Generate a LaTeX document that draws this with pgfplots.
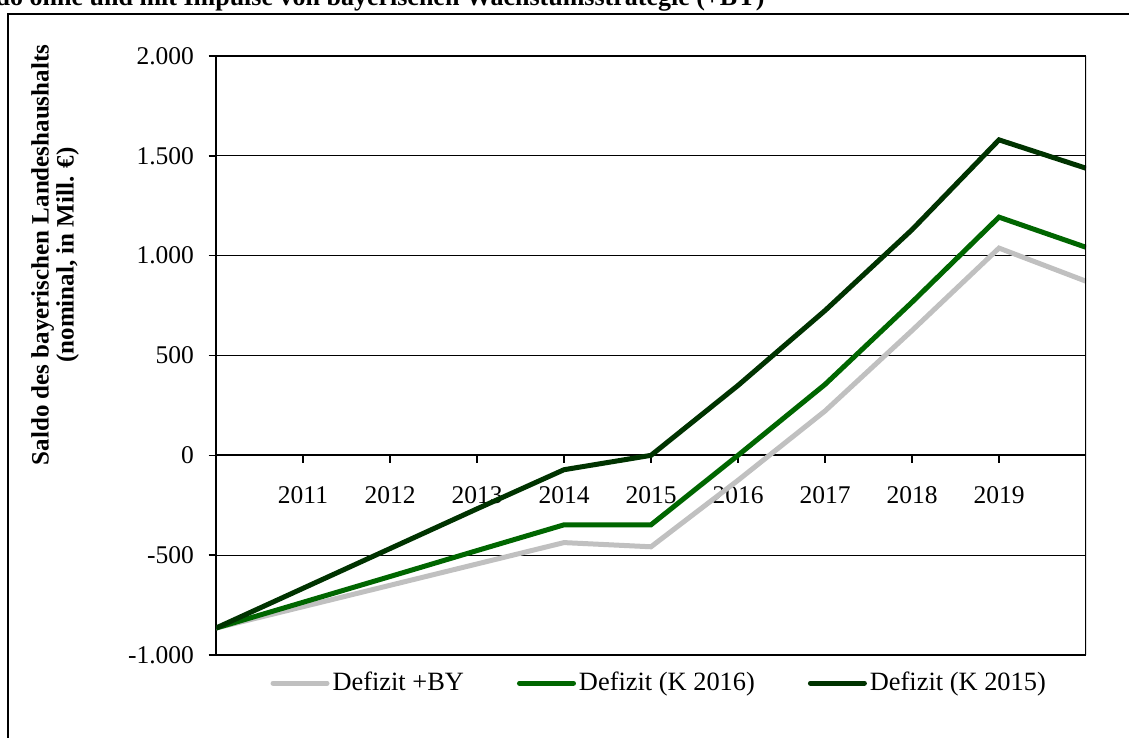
\documentclass[border=0pt]{standalone}
\usepackage{fontspec}
\setmainfont{Liberation Serif}
\usepackage{pgfplots}
\pgfplotsset{compat=1.18}
\definecolor{lineGray}{RGB}{192,192,192}
\definecolor{lineGreen}{RGB}{0,102,0}
\definecolor{lineDark}{RGB}{0,51,0}

\begin{document}
\begin{tikzpicture}
    \path[use as bounding box] (0,0) rectangle (564.5pt,-369pt);

    % outer frame, cut by the page edge
    \draw[line width=1pt] (3.75pt,-380pt) -- (3.75pt,-7pt) -- (580pt,-7pt);

    % title, mostly cut off at the top
    \node[anchor=base east, inner sep=0pt,
        font=\bfseries\fontsize{13}{15}\selectfont]
        at (382.5pt,-2.6pt)
        {Saldo ohne und mit Impulse von bayerischen Wachstumsstrategie (+BY)};

    \begin{axis}[
            at={(108pt,-327.5pt)},
            anchor=south west,
            width=435pt,
            height=299.5pt,
            scale only axis,
            xmin=0, xmax=10,
            ymin=-1000, ymax=2000,
            enlargelimits=false,
            axis y line=left,
            axis x line=middle,
            axis line style={-, black, line width=1pt},
            every inner x axis line/.append style={-},
            every outer y axis line/.append style={-},
            hide obscured x ticks=false,
            hide obscured y ticks=false,
            xtick={1,2,3,4,5,6,7,8,9},
            xticklabels={2011,2012,2013,2014,2015,2016,2017,2018,2019},
            ytick={-1000,-500,0,500,1000,1500,2000},
            yticklabels={-1.000,-500,0,500,1.000,1.500,2.000},
            tick align=outside,
            major tick length=3.75pt,
            tick style={black, line width=0.8pt},
            tick label style={font=\fontsize{12.75}{15}\selectfont},
            xticklabel style={yshift=-8.5pt},
            yticklabel style={xshift=-3.75pt},
            ymajorgrids,
            major grid style={black, line width=0.65pt},
            legend columns=3,
            legend style={
                    at={(0.510,-0.047)},
                    anchor=center,
                    draw=none,
                    fill=none,
                    font=\fontsize{13.2}{15}\selectfont,
                    nodes={inner xsep=1.5pt},
                    /tikz/every even column/.append style={column sep=25pt}
                },
            legend image code/.code={
                    \draw[#1, line cap=round] (0pt,0pt) -- (27pt,0pt);
                },
        ]

        \addplot[lineGray, line width=2.5pt] coordinates {
                (0,-865) (1,-758) (2,-651) (3,-544) (4,-437) (5,-458)
                (6,-125) (7,222) (8,625) (9,1038) (10,872)
            };
        \addlegendentry{Defizit +BY}

        \addplot[lineGreen, line width=2.5pt] coordinates {
                (0,-865) (1,-736) (2,-607) (3,-477) (4,-348) (5,-348)
                (6,0) (7,355) (8,767) (9,1193) (10,1042)
            };
        \addlegendentry{Defizit (K 2016)}

        \addplot[lineDark, line width=2.5pt] coordinates {
                (0,-865) (1,-666) (2,-467) (3,-268) (4,-72) (5,0)
                (6,350) (7,725) (8,1130) (9,1580) (10,1438)
            };
        \addlegendentry{Defizit (K 2015)}

        % right border of the plot area
        \draw[black, line width=0.65pt] (rel axis cs:1,0) -- (rel axis cs:1,1);
    \end{axis}

    % y axis title
    \node[rotate=90, align=center, inner sep=0pt,
        font=\bfseries\fontsize{12.5}{12.5}\selectfont]
        at (27.5pt,-127.5pt)
        {Saldo des bayerischen Landeshaushalts\\(nominal, in Mill. €)};

\end{tikzpicture}
\end{document}
